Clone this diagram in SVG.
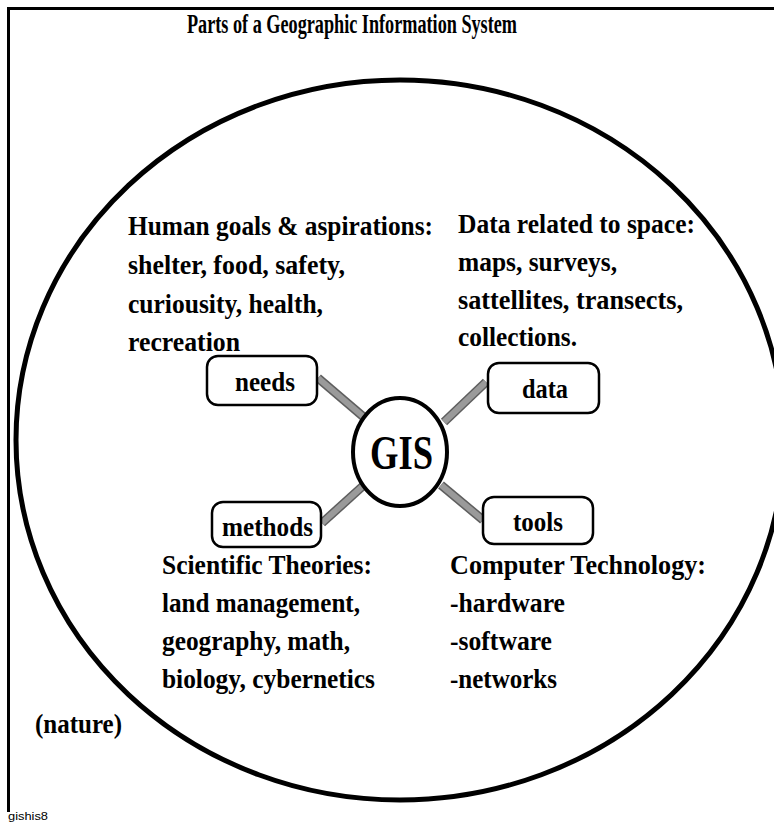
<svg xmlns="http://www.w3.org/2000/svg" width="774" height="823" viewBox="0 0 774 823">
<style>
.t{font-family:"Liberation Serif","Times New Roman",serif;font-weight:bold;fill:#000}
.b{font-size:28px}
.box{fill:#fff;stroke:#000;stroke-width:2.5}
.con{stroke:#5e5e5e;stroke-width:9;fill:none}
.con2{stroke:#9a9a9a;stroke-width:6;fill:none}
</style>
<rect width="774" height="823" fill="#fff"/>
<g id="frame" fill="none" stroke="#000" stroke-width="3">
<path d="M8.5,812 V8.5 H774"/>
</g>
<text class="t" x="187" y="33" font-size="27" textLength="330" lengthAdjust="spacingAndGlyphs">Parts of a Geographic Information System</text>
<ellipse id="nature-ellipse" cx="400" cy="440" rx="384" ry="360" fill="none" stroke="#000" stroke-width="5"/>
<g id="connectors">
<line class="con" x1="318" y1="378" x2="366" y2="419"/>
<line class="con" x1="322" y1="523" x2="364" y2="485"/>
<line class="con" x1="486" y1="382" x2="444" y2="422"/>
<line class="con" x1="441" y1="485" x2="483" y2="520"/>
<line class="con2" x1="318" y1="378" x2="366" y2="419"/>
<line class="con2" x1="322" y1="523" x2="364" y2="485"/>
<line class="con2" x1="486" y1="382" x2="444" y2="422"/>
<line class="con2" x1="441" y1="485" x2="483" y2="520"/>
</g>
<g id="gis">
<ellipse cx="400" cy="452" rx="47" ry="54" fill="#fff" stroke="#000" stroke-width="4"/>
<text class="t" x="370" y="469" font-size="48" textLength="63" lengthAdjust="spacingAndGlyphs">GIS</text>
</g>
<g id="needs">
<rect class="box" x="207" y="356" width="110" height="49" rx="11"/>
<text class="t" x="235" y="391" font-size="28" textLength="60" lengthAdjust="spacingAndGlyphs">needs</text>
</g>
<g id="methods">
<rect class="box" x="212" y="502" width="109" height="45" rx="11"/>
<text class="t" x="222" y="536" font-size="28" textLength="91" lengthAdjust="spacingAndGlyphs">methods</text>
</g>
<g id="data">
<rect class="box" x="488" y="363" width="111" height="50" rx="11"/>
<text class="t" x="522" y="398" font-size="28" textLength="46" lengthAdjust="spacingAndGlyphs">data</text>
</g>
<g id="tools">
<rect class="box" x="483" y="497" width="110" height="47" rx="11"/>
<text class="t" x="513" y="531" font-size="28" textLength="50" lengthAdjust="spacingAndGlyphs">tools</text>
</g>
<g id="human-goals" class="t b">
<text x="128" y="235" textLength="305" lengthAdjust="spacingAndGlyphs">Human goals &amp; aspirations:</text>
<text x="128" y="274" textLength="217" lengthAdjust="spacingAndGlyphs">shelter, food, safety,</text>
<text x="128" y="313" textLength="195" lengthAdjust="spacingAndGlyphs">curiousity, health,</text>
<text x="128" y="351" textLength="112" lengthAdjust="spacingAndGlyphs">recreation</text>
</g>
<g id="data-space" class="t b">
<text x="458" y="233" textLength="237" lengthAdjust="spacingAndGlyphs">Data related to space:</text>
<text x="458" y="271" textLength="159" lengthAdjust="spacingAndGlyphs">maps, surveys,</text>
<text x="458" y="309" textLength="225" lengthAdjust="spacingAndGlyphs">sattellites,  transects,</text>
<text x="458" y="346" textLength="119" lengthAdjust="spacingAndGlyphs">collections.</text>
</g>
<g id="scientific" class="t b">
<text x="162" y="574" textLength="210" lengthAdjust="spacingAndGlyphs">Scientific Theories:</text>
<text x="162" y="612" textLength="198" lengthAdjust="spacingAndGlyphs">land management,</text>
<text x="162" y="650" textLength="188" lengthAdjust="spacingAndGlyphs">geography, math,</text>
<text x="162" y="688" textLength="213" lengthAdjust="spacingAndGlyphs">biology, cybernetics</text>
</g>
<g id="computer" class="t b">
<text x="450" y="574" textLength="256" lengthAdjust="spacingAndGlyphs">Computer Technology:</text>
<text x="450" y="612" textLength="115" lengthAdjust="spacingAndGlyphs">-hardware</text>
<text x="450" y="650" textLength="102" lengthAdjust="spacingAndGlyphs">-software</text>
<text x="450" y="688" textLength="107" lengthAdjust="spacingAndGlyphs">-networks</text>
</g>
<text class="t b" x="35" y="733" textLength="87" lengthAdjust="spacingAndGlyphs">(nature)</text>
<text x="8" y="820" font-family="Liberation Sans, Arial, sans-serif" font-size="11" textLength="40" lengthAdjust="spacingAndGlyphs">gishis8</text>
</svg>
